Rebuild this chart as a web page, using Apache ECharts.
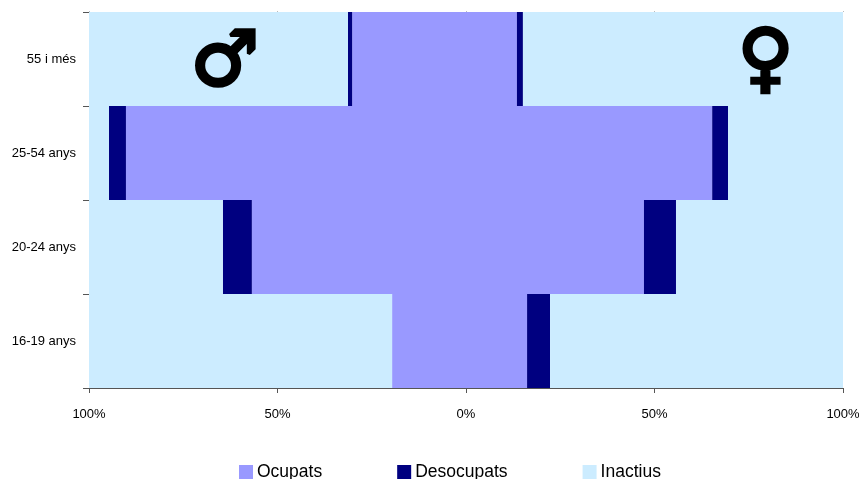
<!DOCTYPE html>
<html>
<head>
<meta charset="utf-8">
<style>html,body{margin:0;padding:0;background:#fff;overflow:hidden}#c{width:859px;height:479px}</style>
<script src="https://cdn.jsdelivr.net/npm/echarts@6/dist/echarts.min.js"></script>
</head>
<body>
<div id="c"></div>
<script>
const categories = ['16-19 anys', '20-24 anys', '25-54 anys', '55 i més'];
const xTicks = { min: -100, max: 100, step: 50 };
const menOcupats = [19.6, 56.8, 90.2, 30.2];
const menDesocupats = [0, 7.7, 4.5, 1.1];
const menInactius = [80.4, 35.5, 5.3, 68.7];
const womenOcupats = [16.2, 47.2, 65.3, 13.5];
const womenDesocupats = [6.1, 8.5, 4.2, 1.6];
const womenInactius = [77.7, 44.3, 30.5, 84.9];
const names = ['Ocupats', 'Desocupats', 'Inactius'];
const colors = ['#9999FF', '#000080', '#CCECFF'];

const font = 'Liberation Sans';
const neg = a => a.map(v => -v);
const mk = (name, color, data) => ({
  name, type: 'bar', stack: 'all', data, barWidth: '100%',
  itemStyle: { color }, emphasis: { disabled: true }, silent: true, animation: false
});
const series = [];
[[menOcupats, womenOcupats], [menDesocupats, womenDesocupats], [menInactius, womenInactius]].forEach((pair, i) => {
  series.push(mk(names[i], colors[i], neg(pair[0])));
  series.push(mk(names[i], colors[i], pair[1]));
});

const chart = echarts.init(document.getElementById('c'), null, { renderer: 'canvas' });
chart.setOption({
  animation: false,
  backgroundColor: '#fff',
  grid: { left: 89, right: 16, top: 12, bottom: 91, containLabel: false, outerBoundsMode: 'none' },
  legend: {
    data: names, left: 239, top: 463, padding: 0, itemWidth: 14, itemHeight: 14, itemGap: 75,
    icon: 'rect', selectedMode: false,
    textStyle: { fontFamily: font, fontSize: 17.5, color: '#000', padding: [0, 0, 0, -1] }
  },
  xAxis: [{
    type: 'value', min: xTicks.min, max: xTicks.max, interval: xTicks.step,
    axisLine: { show: true, onZero: false, lineStyle: { color: '#555', width: 1 } },
    axisTick: { show: true, length: 5, lineStyle: { color: '#555' } },
    splitLine: { show: false },
    axisLabel: { fontFamily: font, fontSize: 13, color: '#000', margin: 20, formatter: v => Math.abs(v) + '%' }
  }, {
    type: 'value', position: 'top', min: xTicks.min, max: xTicks.max, interval: xTicks.step,
    axisLine: { show: false }, axisLabel: { show: false }, splitLine: { show: false },
    axisTick: { show: true, length: 1, lineStyle: { color: '#bbb' } }
  }],
  yAxis: {
    type: 'category', data: categories, boundaryGap: true,
    axisLine: { show: true, onZero: false, lineStyle: { color: '#555', width: 1 } },
    axisTick: { show: true, length: 6, alignWithLabel: false, lineStyle: { color: '#555' } },
    axisLabel: { fontFamily: font, fontSize: 13, color: '#000', margin: 13 }
  },
  series,
  graphic: [
    { type: 'text', left: 189, top: 25, z: 100, style: { text: '♂', fontFamily: 'DejaVu Sans', fontSize: 76, fill: '#000', stroke: '#000', lineWidth: 3.5 } },
    { type: 'text', left: 736, top: 23, z: 100, style: { text: '♀', fontFamily: 'DejaVu Sans', fontSize: 76, fill: '#000', stroke: '#000', lineWidth: 3.5 } }
  ]
});
</script>
</body>
</html>
